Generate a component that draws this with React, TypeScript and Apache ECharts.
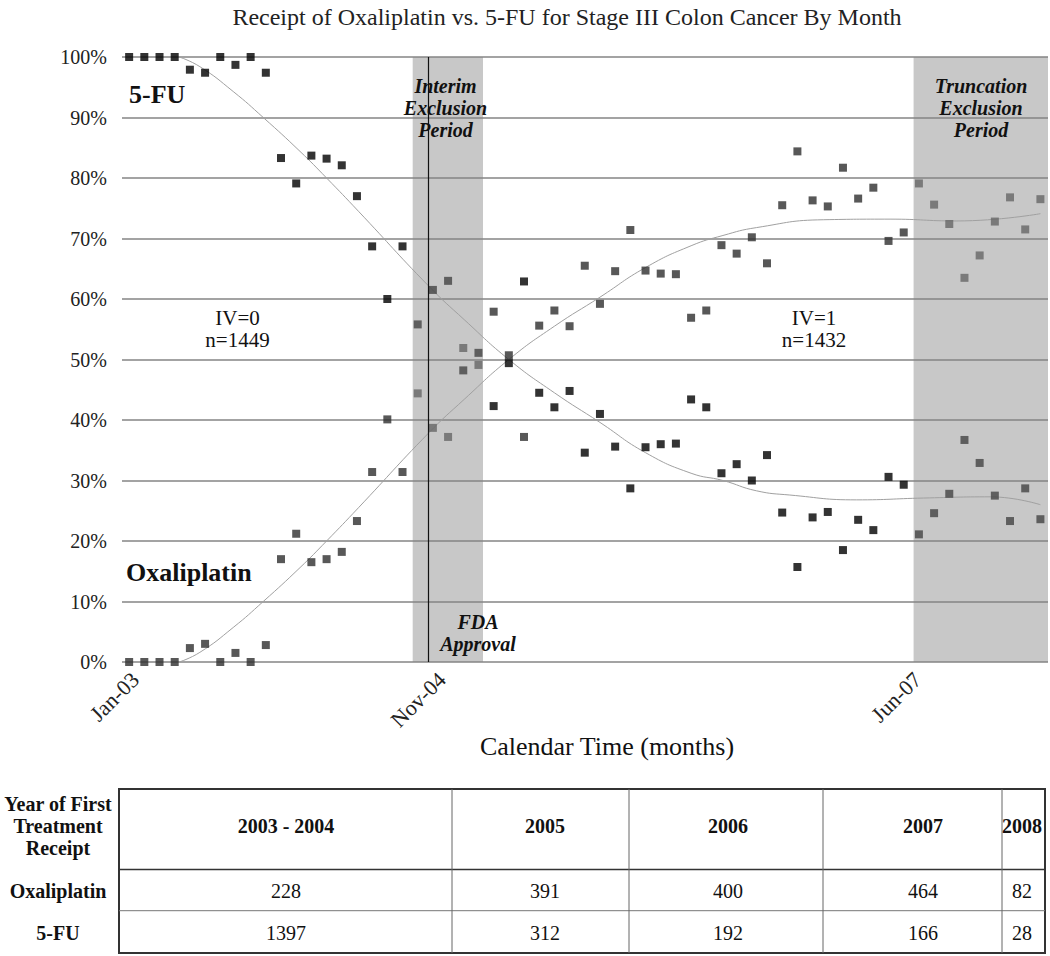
import React, { useEffect, useRef } from "react";
import * as echarts from "echarts";

const TITLE = "Receipt of Oxaliplatin vs. 5-FU for Stage III Colon Cancer By Month";
const X_AXIS_NAME = "Calendar Time (months)";

// month index 0 = Jan-03 ... 60
const xTickLabels = ["Jan-03", "Nov-04", "Jun-07"];
const xTickPositions = [0.4, 20.6, 51.9];

const oxaliplatin = [
  0, 0, 0, 0, 2.3, 3.0, 0, 1.5, 0, 2.8,
  17.0, 21.2, 16.5, 17.0, 18.2, 23.3, 31.4, 40.1, 31.4, 44.4,
  38.7, 37.2, 51.9, 49.1, 57.9, 50.7, 37.2, 55.6, 58.1, 55.5,
  65.5, 59.2, 64.6, 71.4, 64.7, 64.2, 64.1, 56.9, 58.1, 68.9,
  67.5, 70.2, 65.9, 75.5, 84.4, 76.3, 75.3, 81.7, 76.6, 78.4,
  69.6, 71.0, 79.1, 75.6, 72.4, 63.5, 67.2, 72.8, 76.8, 71.5,
  76.5,
];

const fiveFU = [
  100, 100, 100, 100, 97.9, 97.4, 100, 98.7, 100, 97.4,
  83.3, 79.1, 83.7, 83.2, 82.1, 77.0, 68.7, 60.0, 68.7, 55.8,
  61.5, 63.0, 48.2, 51.1, 42.3, 49.4, 62.9, 44.5, 42.1, 44.8,
  34.6, 41.0, 35.6, 28.7, 35.5, 36.0, 36.1, 43.4, 42.1, 31.2,
  32.7, 30.0, 34.2, 24.7, 15.7, 23.9, 24.8, 18.5, 23.5, 21.8,
  30.6, 29.3, 21.1, 24.6, 27.8, 36.7, 32.9, 27.5, 23.3, 28.7,
  23.6,
];

// fitted trend curves [month index, percent]
const fiveFUTrend = [
  [3.3, 100], [4.66, 98.4], [6.85, 94.3], [8.83, 90], [11.25, 84.4], [13, 80],
  [15.1, 74.5], [19.7, 62.2], [22.1, 56.5], [25, 50], [28, 44.5], [31, 39.6],
  [34, 34.6], [37, 31.2], [39.1, 30.0], [41.3, 28.3], [43.5, 27.6], [47.9, 26.8],
  [52.3, 27.1], [56.7, 27.3], [60, 26.0],
];
const oxaliTrend = [
  [3.3, 0], [4.66, 1.6], [6.85, 5.7], [8.83, 10], [11.25, 15.6], [13, 20],
  [15.1, 25.5], [19.7, 37.8], [22.1, 43.5], [25, 50], [28, 55.5], [31, 60.3],
  [34, 65.2], [37, 68.8], [39.1, 70.5], [41.3, 71.8], [45.7, 73.1], [50.1, 73.2],
  [54.5, 72.9], [60, 74.1],
];

const interimPeriod = [18.67, 23.3];
const truncationPeriod = [51.65, 60.5];
const fdaApproval = 19.7;
const interimMonths = [19, 23];
const truncationStart = 52;

const tableRowLabels = ["Year of First\nTreatment\nReceipt", "Oxaliplatin", "5-FU"];
const tableYears = ["2003 - 2004", "2005", "2006", "2007", "2008"];
const tableOxaliplatin = [228, 391, 400, 464, 82];
const tableFiveFU = [1397, 312, 192, 166, 28];

const SERIF = '"Liberation Serif", "Times New Roman", serif';

function isExcluded(i: number) {
  return (i >= interimMonths[0] && i <= interimMonths[1]) || i >= truncationStart;
}

export default function App() {
  const ref = useRef<HTMLDivElement>(null);

  useEffect(() => {
    if (!ref.current) return;
    const chart = echarts.init(ref.current, undefined, { renderer: "svg" });

    const colEdges = [119, 452, 629, 823, 1002, 1045];
    const colText = [286, 545, 728, 923, 1022];
    const tTop = 789, tHead = 869.5, tMid = 910.7, tBottom = 953;
    const rowY = [826, 891, 933];

    const graphics: any[] = [];
    const txt = (text: string, x: number, y: number, font: string, align = "center", lh = 22) => ({
      type: "text",
      x,
      y,
      silent: true,
      style: { text, font, fill: "#111", align, verticalAlign: "middle", lineHeight: lh },
    });
    graphics.push(txt(X_AXIS_NAME, 607, 746, `26px ${SERIF}`));
    graphics.push(txt("5-FU", 129, 94, `bold 26px ${SERIF}`, "left"));
    graphics.push(txt("Oxaliplatin", 126, 572, `bold 26px ${SERIF}`, "left"));
    graphics.push(txt("IV=0\nn=1449", 237.5, 329, `21px ${SERIF}`, "center", 22));
    graphics.push(txt("IV=1\nn=1432", 814, 329, `21px ${SERIF}`, "center", 22));
    graphics.push(txt("Interim\nExclusion\nPeriod", 445.5, 108, `italic bold 20px ${SERIF}`));
    graphics.push(txt("Truncation\nExclusion\nPeriod", 981, 108, `italic bold 20px ${SERIF}`));
    graphics.push(txt("FDA\nApproval", 478, 633, `italic bold 20px ${SERIF}`));

    // table
    graphics.push({
      type: "rect",
      silent: true,
      shape: { x: colEdges[0], y: tTop, width: colEdges[5] - colEdges[0], height: tBottom - tTop },
      style: { fill: "none", stroke: "#333", lineWidth: 2 },
    });
    graphics.push({
      type: "line",
      silent: true,
      shape: { x1: colEdges[0], y1: tHead, x2: colEdges[5], y2: tHead },
      style: { stroke: "#333", lineWidth: 1.5 },
    });
    graphics.push({
      type: "line",
      silent: true,
      shape: { x1: colEdges[0], y1: tMid, x2: colEdges[5], y2: tMid },
      style: { stroke: "#777", lineWidth: 1 },
    });
    for (let c = 1; c < colEdges.length - 1; c++) {
      graphics.push({
        type: "line",
        silent: true,
        shape: { x1: colEdges[c], y1: tTop, x2: colEdges[c], y2: tBottom },
        style: { stroke: "#666", lineWidth: 1 },
      });
    }
    tableRowLabels.forEach((l, r) => graphics.push(txt(l, 58, rowY[r], `bold 20px ${SERIF}`)));
    tableYears.forEach((y, c) => graphics.push(txt(y, colText[c], rowY[0], `bold 20px ${SERIF}`)));
    tableOxaliplatin.forEach((v, c) => graphics.push(txt(String(v), colText[c], rowY[1], `20px ${SERIF}`)));
    tableFiveFU.forEach((v, c) => graphics.push(txt(String(v), colText[c], rowY[2], `20px ${SERIF}`)));

    const option: any = {
      animation: false,
      backgroundColor: "#fff",
      title: {
        text: TITLE,
        left: 562,
        top: 0,
        textAlign: "center",
        textStyle: { fontFamily: SERIF, fontSize: 24, fontWeight: "normal", color: "#222" },
      },
      grid: { left: 122, right: 2, top: 57, bottom: 294, containLabel: false },
      xAxis: {
        type: "value",
        min: -0.47,
        max: 60.5,
        axisLine: { show: false },
        axisTick: { show: false },
        splitLine: { show: false },
        axisLabel: {
          customValues: xTickPositions,
          formatter: (v: number) => {
            const k = xTickPositions.indexOf(v);
            return k >= 0 ? xTickLabels[k] : "";
          },
          rotate: 45,
          margin: 14,
          fontFamily: SERIF,
          fontSize: 22,
          color: "#222",
        },
      },
      yAxis: {
        type: "value",
        min: 0,
        max: 100,
        interval: 10,
        axisLine: { show: false },
        axisTick: { show: false },
        splitLine: { lineStyle: { color: "#858585", width: 1.5 } },
        axisLabel: {
          formatter: "{value}%",
          margin: 15,
          fontFamily: SERIF,
          fontSize: 20,
          color: "#222",
        },
      },
      series: [
        {
          type: "scatter",
          name: "periods",
          data: [],
          silent: true,
          markArea: {
            z: -1,
            silent: true,
            itemStyle: { color: "#c8c8c8" },
            label: { show: false },
            data: [
              [{ xAxis: interimPeriod[0] }, { xAxis: interimPeriod[1] }],
              [{ xAxis: truncationPeriod[0] }, { xAxis: truncationPeriod[1] }],
            ],
          },
          markLine: {
            silent: true,
            symbol: ["none", "none"],
            label: { show: false },
            lineStyle: { color: "#111", width: 1.2, type: "solid" },
            data: [{ xAxis: fdaApproval }],
          },
        },
        {
          type: "line",
          name: "5-FU trend",
          data: fiveFUTrend,
          smooth: true,
          showSymbol: false,
          silent: true,
          lineStyle: { color: "#a0a0a0", width: 1 },
          z: 3,
        },
        {
          type: "line",
          name: "Oxaliplatin trend",
          data: oxaliTrend,
          smooth: true,
          showSymbol: false,
          silent: true,
          lineStyle: { color: "#a0a0a0", width: 1 },
          z: 3,
        },
        {
          type: "scatter",
          name: "5-FU",
          symbol: "rect",
          symbolSize: 8,
          z: 4,
          data: fiveFU.map((v, i) => ({
            value: [i, v],
            itemStyle: { color: isExcluded(i) ? "#444" : "#000" },
          })),
        },
        {
          type: "scatter",
          name: "Oxaliplatin",
          symbol: "rect",
          symbolSize: 8,
          z: 4,
          data: oxaliplatin.map((v, i) => ({
            value: [i, v],
            itemStyle: { color: isExcluded(i) ? "#666" : "#2e2e2e" },
          })),
        },
      ],
      graphic: graphics,
    };

    chart.setOption(option);
    return () => chart.dispose();
  }, []);

  return (
    <div
      ref={ref}
      style={{ position: "absolute", left: 0, top: 0, width: 1050, height: 956, background: "#fff" }}
    />
  );
}
